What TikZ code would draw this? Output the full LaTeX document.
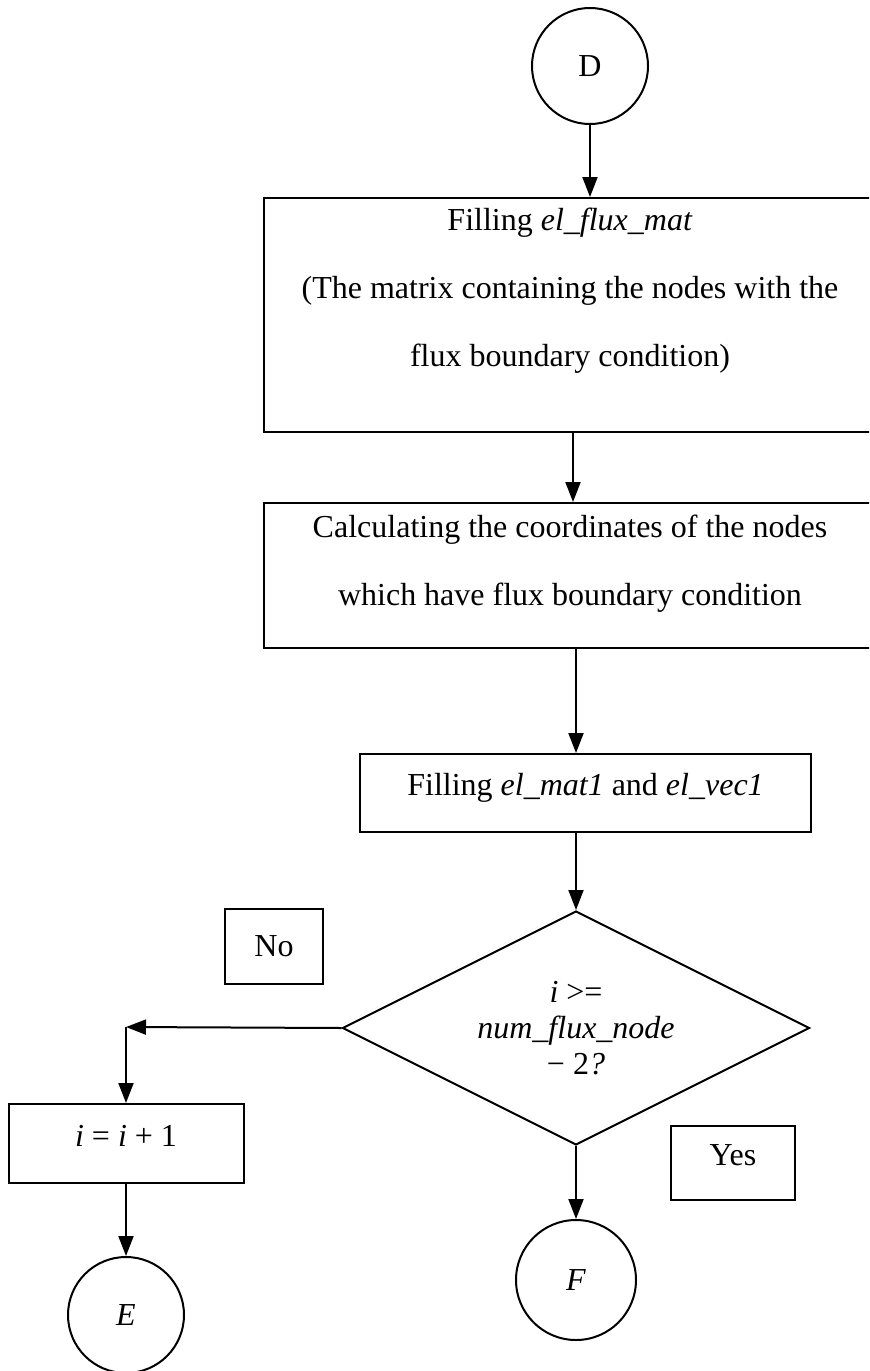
\documentclass[tikz,border=0pt]{standalone}
\usepackage{fontspec}
\setmainfont{Liberation Serif}
\usetikzlibrary{arrows.meta,shapes.geometric}
\begin{document}
\begin{tikzpicture}[>={Triangle[length=10pt,width=7.5pt]}, x=0.5pt, y=-0.5pt, line width=1pt,
    every node/.style={font=\fontsize{16}{19}\selectfont},
    proc/.style={draw, rectangle, inner sep=0pt},
    procone/.style={proc, text height=11pt, text depth=8.5pt},
    conn/.style={draw, circle, inner sep=0pt, minimum size=58pt},
    txt/.style={align=center, font=\fontsize{16}{34}\selectfont}]
\useasboundingbox (0,0) rectangle (869,1371);
\clip (0,0) rectangle (869,1371);
\node[conn] (D) at (590,66) {D};
\node[proc, minimum width=309pt, minimum height=117pt] (flux) at (573,315) {};
\node[txt] (fluxtxt) at (570,291) {Filling \textit{el\_flux\_mat}\\(The matrix containing the nodes with the\\flux boundary condition)};
\node[proc, minimum width=309pt, minimum height=72.5pt] (coord) at (573,575.5) {};
\node[txt] (coordtxt) at (570,564) {Calculating the coordinates of the nodes\\which have flux boundary condition};
\node[procone, minimum width=225.5pt, minimum height=39pt] (elmat) at (585.5,793) {Filling \textit{el\_mat1} and \textit{el\_vec1}};
\node[draw, diamond, aspect=2, inner sep=0pt, minimum width=233.5pt, minimum height=117pt, align=center,
    font=\fontsize{16}{18}\selectfont] (dec) at (576,1028) {\textit{i} >=\\\textit{num\_flux\_node}\\− 2\textit{?}};
\node[proc, minimum width=49pt, minimum height=37.5pt] (no) at (274,946.5) {No};
\node[procone, minimum width=62pt, minimum height=37pt] (yes) at (733,1163) {Yes};
\node[procone, minimum width=117.5pt, minimum height=39.5pt] (inc) at (126,1143.5) {\textit{i} = \textit{i} + 1};
\node[conn] (E) at (126,1315) {\textit{E}};
\node[conn, minimum size=60pt] (F) at (576,1280) {\textit{F}};
\coordinate (turn) at (126,1027);
% main line
\draw[->] (D) -- (D |- flux.north);
\draw[->] (flux.south) -- (coord.north);
\draw[->] (coord.south -| dec) -- (elmat.north -| dec);
\draw[->] (elmat.south -| dec) -- (dec.north);
\draw[->] (dec) -- (F);
% no branch
\draw[->] (dec.west) -- (turn);
\draw[->] (turn) -- (turn |- inc.north);
\draw[->] (inc) -- (E);
\end{tikzpicture}
\end{document}
